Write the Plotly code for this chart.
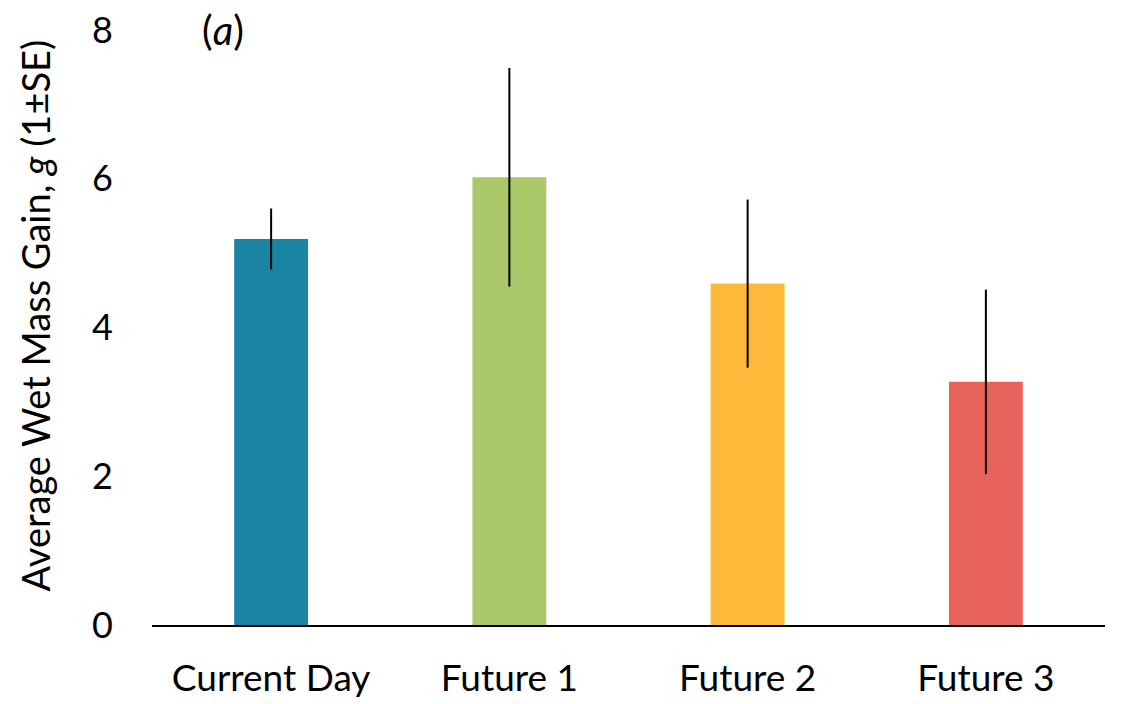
import plotly.graph_objects as go

# Treatment groups and their mean wet mass gain with one standard error
categories = ["Current Day", "Future 1", "Future 2", "Future 3"]
mean_gain = [5.19, 6.02, 4.59, 3.27]
std_err = [0.41, 1.47, 1.13, 1.24]
bar_colors = ["#1984A3", "#AAC86A", "#FCB93A", "#E6625A"]
y_ticks = [0, 2, 4, 6, 8]

FONT = "Lato"

fig = go.Figure(
    go.Bar(
        x=categories,
        y=mean_gain,
        marker=dict(color=bar_colors, line=dict(width=0)),
        error_y=dict(type="data", array=std_err, visible=True,
                     color="black", thickness=2, width=0),
    )
)

fig.update_layout(
    width=1127,
    height=704,
    margin=dict(l=152, r=22, t=30, b=79, autoexpand=False),
    plot_bgcolor="white",
    paper_bgcolor="white",
    bargap=0.69,
    showlegend=False,
    font=dict(family=FONT, size=37, color="black"),
    xaxis=dict(
        automargin=False,
        showgrid=False,
        showline=True,
        linecolor="black",
        linewidth=1.5,
        ticks="",
        ticklabelstandoff=20,
        tickfont=dict(family=FONT, size=37, color="black"),
    ),
    yaxis=dict(
        automargin=False,
        range=[0, 8],
        tickvals=y_ticks,
        showgrid=False,
        zeroline=False,
        showline=False,
        ticks="",
        ticklabelstandoff=38,
        tickfont=dict(family=FONT, size=36, color="black"),
    ),
    annotations=[
        # panel label
        dict(text="(<i>a</i>)", x=0.074, y=1.0, xref="paper", yref="paper",
             xanchor="center", yanchor="middle", showarrow=False,
             font=dict(family=FONT, size=40, color="black")),
        # y-axis title
        dict(text="Average Wet Mass Gain, <i>g</i> (1±SE)", textangle=-90,
             x=-0.123, y=0.52, xref="paper", yref="paper",
             xanchor="center", yanchor="middle", showarrow=False,
             font=dict(family=FONT, size=38, color="black")),
    ],
)

fig.write_html("out.html")
